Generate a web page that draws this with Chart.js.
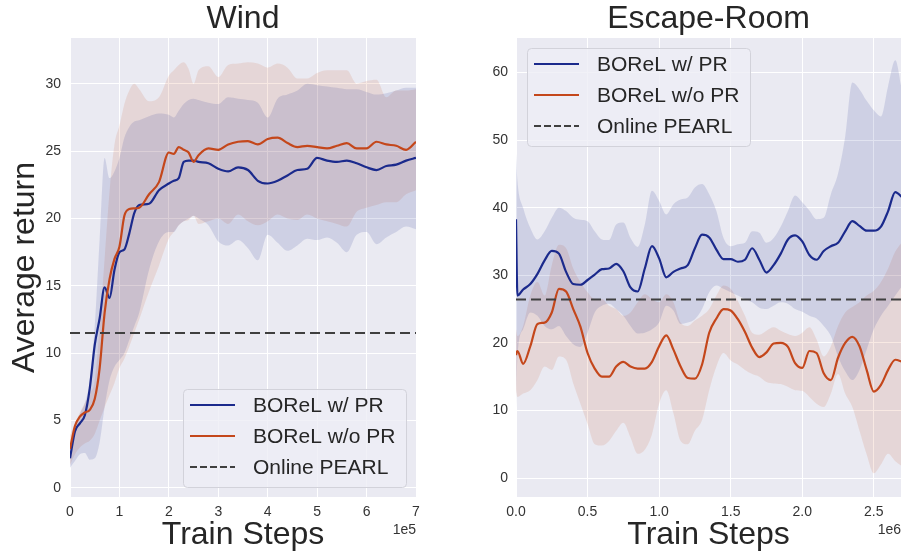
<!DOCTYPE html>
<html>
<head>
<meta charset="utf-8">
<script src="https://cdn.jsdelivr.net/npm/chart.js@4"></script>
<style>
  body { margin: 0; background: #fff; overflow: hidden; }
  #wrap { position: relative; width: 901px; height: 556px; }
  .panel { position: absolute; top: 0; height: 556px; }
</style>
</head>
<body>
<div id="wrap">
  <div class="panel" style="left:0;width:450px"><canvas id="wind"></canvas></div>
  <div class="panel" style="left:450px;width:451px"><canvas id="room"></canvas></div>
</div>
<script>
const FONT = '"Liberation Sans", Arial, sans-serif';
const BLUE = '#1b2a8c';
const ORANGE = '#c4471b';
const seriesNames = ['BOReL w/ PR', 'BOReL w/o PR', 'Online PEARL'];

// WIND  (steps in units of 1e5)
const windSteps = [0, 0.1, 0.2, 0.3, 0.4, 0.5, 0.6, 0.7, 0.8, 0.9, 1.0, 1.1, 1.2, 1.3, 1.4, 1.6, 1.8, 2.0, 2.1, 2.2, 2.3, 2.4, 2.5, 2.6, 2.8, 3.0, 3.2, 3.4, 3.6, 3.8, 4.0, 4.2, 4.4, 4.6, 4.8, 5.0, 5.2, 5.4, 5.6, 5.8, 6.0, 6.2, 6.4, 6.6, 6.8, 7.0];
const windWithPR = [2.2, 4.2, 4.8, 5.4, 7.4, 10.6, 12.6, 14.9, 14.1, 16.2, 17.5, 17.7, 18.9, 20.4, 21.0, 21.1, 22.1, 22.6, 22.8, 23.0, 24.2, 24.3, 24.3, 24.2, 24.1, 23.7, 23.5, 23.8, 23.6, 22.8, 22.6, 22.8, 23.2, 23.6, 23.7, 24.5, 24.3, 24.2, 24.3, 24.1, 23.8, 23.6, 23.9, 24.0, 24.3, 24.5];
const windWithPRUpper = [3.0, 4.5, 5.5, 6.3, 8.0, 12.0, 18.5, 24.5, 23.0, 23.5, 24.5, 26.0, 26.8, 27.2, 27.3, 27.6, 27.8, 27.7, 27.5, 28.0, 28.5, 28.8, 28.9, 28.8, 28.6, 28.5, 29.0, 28.9, 28.8, 28.6, 27.5, 28.9, 29.2, 29.5, 30.0, 29.9, 29.8, 29.7, 29.6, 29.6, 29.4, 29.2, 29.3, 29.5, 29.7, 29.7];
const windWithPRLower = [1.5, 2.0, 2.5, 2.6, 2.1, 2.2, 3.4, 6.0, 8.0, 9.0, 9.5, 10.0, 11.0, 12.0, 13.0, 16.2, 18.3, 19.0, 19.0, 19.5, 19.8, 20.0, 20.2, 20.0, 19.5, 18.3, 18.0, 18.4, 17.8, 16.9, 18.8, 18.2, 17.6, 18.0, 18.5, 18.4, 18.6, 18.2, 17.5, 18.8, 19.0, 18.1, 18.6, 19.0, 19.4, 19.2];
const windNoPR = [2.9, 4.6, 5.3, 5.6, 5.8, 6.6, 8.9, 13.0, 15.5, 17.0, 17.9, 20.2, 20.7, 20.75, 20.8, 21.8, 22.7, 24.9, 24.8, 25.3, 25.1, 24.9, 24.2, 24.7, 25.2, 25.1, 25.5, 25.7, 25.75, 25.5, 25.9, 26.0, 25.6, 25.3, 25.4, 25.3, 25.2, 25.4, 25.6, 25.2, 25.2, 25.7, 25.5, 25.4, 25.1, 25.7];
const windNoPRUpper = [3.9, 4.8, 5.6, 6.3, 7.0, 8.0, 12.0, 17.0, 22.0, 25.5, 26.9, 28.5, 29.5, 30.0, 29.6, 28.7, 29.0, 30.6, 31.0, 31.4, 31.6, 31.1, 30.0, 31.0, 31.3, 30.5, 31.4, 31.5, 31.6, 31.5, 31.2, 31.5, 31.2, 30.4, 30.4, 30.8, 31.0, 31.0, 31.0, 30.0, 30.2, 30.3, 29.0, 29.5, 29.5, 29.6];
const windNoPRLower = [1.7, 2.5, 3.0, 3.3, 3.5, 4.0, 5.0, 6.0, 6.9, 7.8, 8.9, 9.6, 10.5, 11.5, 12.5, 14.6, 16.5, 18.5, 19.0, 19.5, 19.8, 19.9, 20.2, 19.6, 19.8, 20.0, 19.6, 20.3, 19.8, 19.5, 19.8, 20.3, 20.0, 19.9, 20.3, 20.0, 19.8, 19.6, 19.4, 20.5, 20.8, 21.0, 21.2, 21.2, 21.8, 22.1];
const windPearl = 11.5;
const windXTicks = [0, 1, 2, 3, 4, 5, 6, 7];
const windYTicks = [0, 5, 10, 15, 20, 25, 30];

// ESCAPE-ROOM  (steps in units of 1e6)
const roomSteps = [0, 0.01, 0.05, 0.1, 0.15, 0.2, 0.25, 0.3, 0.35, 0.4, 0.45, 0.5, 0.55, 0.6, 0.65, 0.7, 0.75, 0.8, 0.85, 0.9, 0.95, 1.0, 1.05, 1.1, 1.15, 1.2, 1.25, 1.3, 1.35, 1.4, 1.45, 1.5, 1.55, 1.6, 1.65, 1.7, 1.75, 1.8, 1.85, 1.9, 1.95, 2.0, 2.05, 2.1, 2.15, 2.2, 2.25, 2.3, 2.35, 2.4, 2.45, 2.5, 2.55, 2.6, 2.65, 2.7];
const roomWithPR = [38.3, 27.0, 27.9, 28.7, 30.2, 32.2, 33.6, 33.2, 30.5, 28.7, 28.6, 29.3, 30.1, 30.9, 31.0, 31.7, 30.6, 28.2, 27.6, 31.0, 34.3, 32.5, 29.7, 30.5, 31.0, 31.5, 34.0, 36.0, 35.6, 33.8, 32.4, 32.4, 32.0, 32.3, 34.0, 32.3, 30.4, 31.5, 33.2, 35.3, 35.9, 35.0, 33.0, 32.3, 33.6, 34.3, 34.8, 36.5, 38.0, 37.3, 36.6, 36.6, 37.2, 39.5, 42.3, 41.5];
const roomWithPRUpper = [48, 44, 40, 37, 35.3, 36.5, 38.5, 40.0, 39.5, 38.5, 38.2, 38.0, 36.5, 35.3, 35.2, 37.5, 37.8, 35.5, 34.2, 37.5, 42.5, 41.0, 39.0, 40.5, 41.2, 41.5, 43.0, 43.5, 42.0, 39.5, 35.5, 34.3, 34.6, 34.8, 36.5, 36.3, 34.8, 35.5, 37.2, 39.5, 41.8, 40.8, 39.6, 38.3, 38.5, 42.0, 45.0, 50.5, 58.5, 57.5, 55.8, 54.4, 53.5, 58.0, 61.8, 57.0];
const roomWithPRLower = [10, 18, 22, 24.5, 24.0, 22.5, 22.0, 22.5, 21.0, 19.8, 19.4, 21.5, 24.5, 25.5, 25.8, 25.0, 24.0, 22.5, 21.4, 21.5, 22.0, 23.0, 25.5, 24.8, 22.8, 23.0, 23.5, 25.0, 27.5, 28.5, 28.0, 27.5, 27.0, 26.5, 26.0, 25.2, 25.0, 25.5, 26.0, 25.8, 25.0, 24.6, 24.0, 23.6, 22.5, 21.0, 18.0, 15.8, 14.5, 16.0, 19.0, 22.0, 24.0, 25.5, 27.0, 28.5];
const roomNoPR = [18.2, 18.8, 16.9, 19.5, 22.8, 23.0, 24.5, 28.0, 27.6, 25.0, 22.4, 18.5, 16.2, 15.0, 15.0, 16.5, 17.2, 16.5, 16.2, 16.2, 17.2, 19.5, 21.1, 19.0, 16.5, 14.8, 14.7, 16.8, 21.5, 23.6, 25.0, 24.8, 23.5, 21.6, 19.3, 17.9, 18.6, 19.9, 20.0, 19.4, 17.0, 16.3, 18.8, 18.5, 15.5, 14.5, 17.8, 20.0, 20.9, 19.5, 16.0, 12.8, 13.8, 16.0, 17.5, 17.2];
const roomNoPRUpper = [22, 21, 22.5, 27, 29.0, 27.0, 31.5, 34.5, 34.0, 31.0, 29.0, 27.5, 26.5, 26.5, 25.5, 25.0, 24.0, 24.5, 26.0, 27.2, 26.5, 26.0, 27.2, 26.0, 23.0, 22.5, 23.3, 24.0, 25.0, 27.0, 28.5, 28.0, 26.2, 24.0, 21.5, 21.2, 21.8, 22.3, 21.8, 21.3, 21.0, 21.5, 22.3, 20.5, 18.0, 19.5, 22.5, 24.5, 25.3, 26.0, 27.0, 27.7, 29.0, 31.0, 33.5, 35.0];
const roomNoPRLower = [13, 12, 12.5, 13.0, 14.5, 16.5, 16.0, 18.0, 17.5, 14.0, 11.0, 8.0, 5.0, 4.8, 5.5, 7.0, 8.2, 6.0, 3.6, 4.2, 6.5, 11.0, 13.0, 9.6, 5.5, 5.0, 7.0, 8.6, 13.0, 16.5, 18.5, 17.4, 16.8, 16.0, 15.4, 15.0, 14.2, 14.0, 13.9, 13.5, 13.0, 12.9, 12.0, 11.0, 10.5, 12.5, 15.4, 12.5, 10.5, 7.0, 3.5, 0.7, 2.0, 3.6, 2.5, 1.7];
const roomPearl = 26.4;
const roomXTicks = [0, 0.5, 1.0, 1.5, 2.0, 2.5];
const roomYTicks = [0, 10, 20, 30, 40, 50, 60];

function pts(steps, vals) {
    return steps.map((x, i) => ({ x: x, y: vals[i] }));
}

function bandSets(steps, upper, lower, fillColor) {
    let common = { borderWidth: 0, borderColor: 'rgba(0,0,0,0)', pointRadius: 0, cubicInterpolationMode: 'monotone', order: 3 };
    return [
        Object.assign({ data: pts(steps, upper), fill: '+1', backgroundColor: fillColor }, common),
        Object.assign({ data: pts(steps, lower), fill: false }, common)
    ];
}

// draws the grey plot background, the offset text and the boxed legend
const decor = {
    id: 'decor',
    beforeDraw(chart) {
        let ctx = chart.ctx, a = chart.chartArea;
        ctx.save();
        ctx.fillStyle = '#ffffff';
        ctx.fillRect(0, 0, chart.width, chart.height);
        ctx.fillStyle = '#eaeaf2';
        ctx.fillRect(a.left, a.top, a.right - a.left, a.bottom - a.top);
        ctx.restore();
    },
    afterDraw(chart, args, opts) {
        let ctx = chart.ctx, a = chart.chartArea;
        ctx.save();
        ctx.fillStyle = '#333333';
        ctx.font = '14px ' + FONT;
        ctx.textAlign = 'right';
        ctx.textBaseline = 'top';
        ctx.fillText(opts.offsetText, a.right, a.bottom + 26);

        let w = 223, h = 98;
        let left = opts.corner === 'lower right' ? a.right - 10 - w : a.left + 11;
        let top = opts.corner === 'lower right' ? a.bottom - 10 - h : a.top + 10;
        ctx.beginPath();
        ctx.roundRect(left + 0.5, top + 0.5, w, h, 4);
        ctx.fillStyle = 'rgba(238,238,245,0.8)';
        ctx.fill();
        ctx.strokeStyle = '#d2d2da';
        ctx.lineWidth = 1;
        ctx.stroke();

        let styles = [
            { color: BLUE, dash: [] },
            { color: ORANGE, dash: [] },
            { color: '#3f3f3f', dash: [7, 3] }
        ];
        ctx.font = '21px ' + FONT;
        ctx.textAlign = 'left';
        ctx.textBaseline = 'middle';
        seriesNames.forEach((name, i) => {
            let y = top + 16 + i * 31;
            ctx.beginPath();
            ctx.setLineDash(styles[i].dash);
            ctx.strokeStyle = styles[i].color;
            ctx.lineWidth = 2;
            ctx.moveTo(left + 7, y);
            ctx.lineTo(left + 52, y);
            ctx.stroke();
            ctx.setLineDash([]);
            ctx.fillStyle = '#262626';
            ctx.fillText(name, left + 70, y + 1);
        });
        ctx.restore();
    }
};

function buildChart(id, o) {
    let datasets = []
        .concat(bandSets(o.steps, o.withUpper, o.withLower, 'rgba(27,42,140,0.13)'))
        .concat(bandSets(o.steps, o.noUpper, o.noLower, 'rgba(196,71,27,0.12)'))
        .concat([
            { label: seriesNames[2], data: [{ x: o.xMin, y: o.pearl }, { x: o.xMax, y: o.pearl }], borderColor: '#3f3f3f', borderWidth: 2, borderDash: [10, 5], pointRadius: 0, fill: false, order: 0 },
            { label: seriesNames[1], data: pts(o.steps, o.no), borderColor: ORANGE, borderWidth: 2.2, pointRadius: 0, fill: false, cubicInterpolationMode: 'monotone', order: 1 },
            { label: seriesNames[0], data: pts(o.steps, o.with), borderColor: BLUE, borderWidth: 2.2, pointRadius: 0, fill: false, cubicInterpolationMode: 'monotone', order: 2 }
        ]);

    return new Chart(document.getElementById(id), {
        type: 'line',
        data: { datasets: datasets },
        plugins: [decor],
        options: {
            responsive: true,
            maintainAspectRatio: false,
            animation: false,
            events: [],
            layout: { padding: { left: 0, right: o.padRight, top: 0, bottom: 0 } },
            plugins: {
                legend: { display: false },
                tooltip: { enabled: false },
                filler: { drawTime: 'beforeDatasetsDraw' },
                title: {
                    display: true, text: o.title, fullSize: false, color: '#262626',
                    font: { family: FONT, size: 32, weight: 'normal', lineHeight: 1 },
                    padding: { top: 3, bottom: 3 }
                },
                decor: { corner: o.legendCorner, offsetText: o.offsetText }
            },
            scales: {
                x: {
                    type: 'linear', min: o.xMin, max: o.xMax,
                    afterBuildTicks: s => { s.ticks = o.xTicks.map(v => ({ value: v })); },
                    afterFit: s => { s.height = 59; },
                    border: { display: false },
                    grid: { color: '#ffffff', lineWidth: 1, drawTicks: false },
                    ticks: { padding: 7, color: '#333333', font: { family: FONT, size: 14 }, callback: v => o.xFmt(v), maxRotation: 0 },
                    title: { display: true, text: 'Train Steps', color: '#262626', font: { family: FONT, size: 32, lineHeight: 1 }, padding: { top: 0, bottom: 5 } }
                },
                y: {
                    min: o.yMin, max: o.yMax,
                    afterBuildTicks: s => { s.ticks = o.yTicks.map(v => ({ value: v })); },
                    afterFit: s => { s.width = o.yWidth; },
                    border: { display: false },
                    grid: { color: '#ffffff', lineWidth: 1, drawTicks: false },
                    ticks: { padding: o.yPad, color: '#333333', font: { family: FONT, size: 14 } },
                    title: { display: o.yTitle !== '', text: o.yTitle, color: '#262626', font: { family: FONT, size: 32, lineHeight: 1 }, padding: { top: 9, bottom: 0 } }
                }
            }
        }
    });
}

buildChart('wind', {
    title: 'Wind', steps: windSteps,
    with: windWithPR, withUpper: windWithPRUpper, withLower: windWithPRLower,
    no: windNoPR, noUpper: windNoPRUpper, noLower: windNoPRLower,
    pearl: windPearl, xTicks: windXTicks, yTicks: windYTicks,
    xMin: 0, xMax: 7, yMin: -0.67, yMax: 33.4,
    xFmt: v => String(v), offsetText: '1e5',
    padRight: 34, yWidth: 70, yPad: 9, yTitle: 'Average return',
    legendCorner: 'lower right'
});

buildChart('room', {
    title: 'Escape-Room', steps: roomSteps,
    with: roomWithPR, withUpper: roomWithPRUpper, withLower: roomWithPRLower,
    no: roomNoPR, noUpper: roomNoPRUpper, noLower: roomNoPRLower,
    pearl: roomPearl, xTicks: roomXTicks, yTicks: roomYTicks,
    xMin: 0, xMax: 2.69, yMin: -2.8, yMax: 65.1,
    xFmt: v => v.toFixed(1), offsetText: '1e6',
    padRight: 0, yWidth: 66, yPad: 8, yTitle: '',
    legendCorner: 'upper left'
});
</script>
</body>
</html>
